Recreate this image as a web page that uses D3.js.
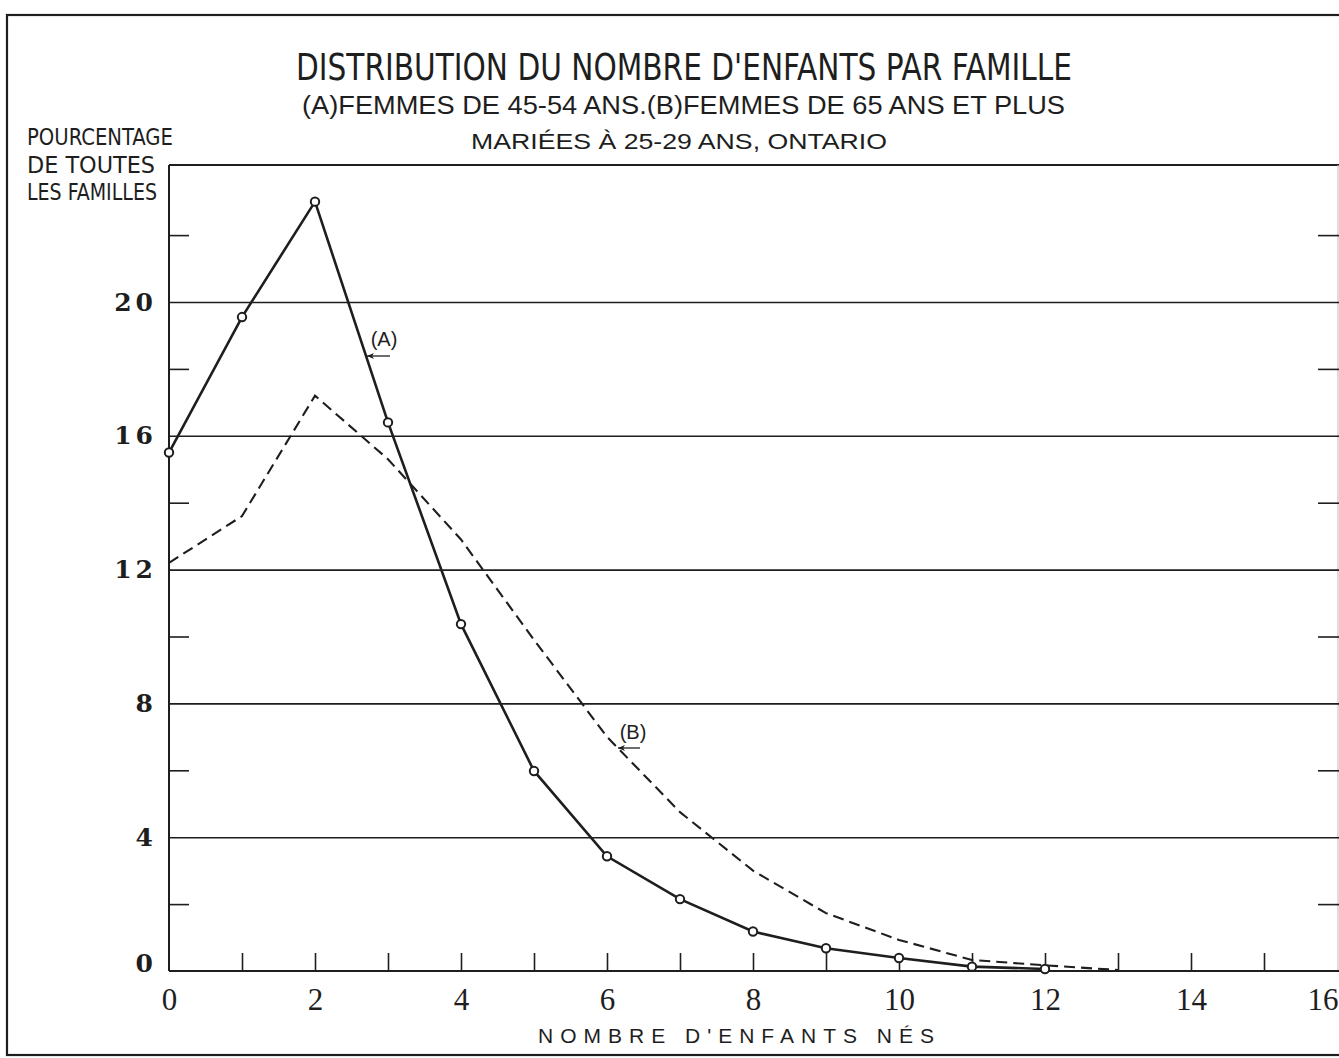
<!DOCTYPE html>
<html>
<head>
<meta charset="utf-8">
<script src="https://cdn.jsdelivr.net/npm/d3@7"></script>
<style>
  html, body { margin: 0; padding: 0; background: #fff; }
  svg { display: block; }
</style>
</head>
<body>
<svg id="chart" width="1339" height="1058"></svg>
<script>
// ---- data ----
const childrenA = [0,1,2,3,4,5,6,7,8,9,10,11,12];
const seriesA   = [15.5,19.55,23.0,16.4,10.37,5.98,3.43,2.15,1.18,0.68,0.39,0.13,0.06];
const childrenB = [0,1,2,3,4,5,6,7,8,9,10,11,12,13];
const seriesB   = [12.2,13.6,17.2,15.3,12.9,9.9,7.0,4.75,3.0,1.73,0.93,0.33,0.17,0.03];
const xTickLabels = [0,2,4,6,8,10,12,14,16];
const xMinorTicks = [1,2,3,4,5,6,7,8,9,10,11,12,13,14,15];
const yTickLabels = [0,4,8,12,16,20];
const yGridLines  = [4,8,12,16,20];
const yMinorTicks = [2,6,10,14,18,22];
const titleText = "DISTRIBUTION DU NOMBRE D'ENFANTS PAR FAMILLE";
const subtitle1 = "(A)FEMMES DE 45-54 ANS.(B)FEMMES DE 65 ANS ET PLUS";
const subtitle2 = "MARIÉES À 25-29 ANS, ONTARIO";
const yTitle = ["POURCENTAGE", "DE TOUTES", "LES FAMILLES"];
const xTitle = "NOMBRE D'ENFANTS NÉS";

const ink = "#1e1e1e";
const svg = d3.select("#chart");

const left = 169, right = 1337, bottom = 971, topFrame = 165;
const x = d3.scaleLinear().domain([0, 16]).range([left, right]);
const y = d3.scaleLinear().domain([0, 20]).range([bottom, 302]);

// outer border
svg.append("rect").attr("x", 7).attr("y", 15).attr("width", 1360).attr("height", 1040)
  .attr("fill", "none").attr("stroke", ink).attr("stroke-width", 2.2);

// plot frame: top line, left axis, right edge
svg.append("line").attr("x1", left).attr("x2", 1339).attr("y1", topFrame).attr("y2", topFrame)
  .attr("stroke", ink).attr("stroke-width", 2);
svg.append("line").attr("x1", left).attr("x2", left).attr("y1", topFrame).attr("y2", bottom)
  .attr("stroke", ink).attr("stroke-width", 2);
svg.append("line").attr("x1", right + 1).attr("x2", right + 1).attr("y1", topFrame).attr("y2", bottom)
  .attr("stroke", "#bbb").attr("stroke-width", 1);

function styleAxis(g) {
  g.select(".domain").remove();
  g.selectAll(".tick line").attr("stroke", ink).attr("stroke-width", 1.6);
}

// horizontal grid lines
svg.append("g").attr("transform", `translate(${left},0)`)
  .call(d3.axisLeft(y).tickValues(yGridLines).tickSize(-(1339 - left)).tickFormat(""))
  .call(styleAxis);

// x axis baseline
svg.append("line").attr("x1", left).attr("x2", 1339).attr("y1", bottom).attr("y2", bottom)
  .attr("stroke", ink).attr("stroke-width", 2);

// minor ticks left and right
svg.append("g").attr("transform", `translate(${left},0)`)
  .call(d3.axisLeft(y).tickValues(yMinorTicks).tickSize(-20).tickFormat(""))
  .call(styleAxis);
svg.append("g").attr("transform", `translate(1339,0)`)
  .call(d3.axisRight(y).tickValues(yMinorTicks).tickSize(-21).tickFormat(""))
  .call(styleAxis);

// x ticks upward
svg.append("g").attr("transform", `translate(0,${bottom})`)
  .call(d3.axisBottom(x).tickValues(xMinorTicks).tickSize(-18).tickFormat(""))
  .call(styleAxis);

// x tick labels
const gx = svg.append("g").attr("transform", `translate(0,${bottom})`)
  .call(d3.axisBottom(x).tickValues(xTickLabels).tickSize(0).tickPadding(17).tickFormat(d3.format("d")));
gx.select(".domain").remove();
gx.selectAll("text").attr("font-family", "'Liberation Serif', 'DejaVu Serif', serif")
  .attr("font-size", 31).attr("fill", ink);
gx.selectAll(".tick").filter(d => d === 16).select("text")
  .attr("text-anchor", "end").attr("x", 1);

// y tick labels
const gy = svg.append("g").attr("transform", `translate(${left},0)`)
  .call(d3.axisLeft(y).tickValues(yTickLabels).tickSize(0).tickPadding(12).tickFormat(d3.format("d")));
gy.select(".domain").remove();
gy.selectAll("text").attr("font-family", "'DejaVu Serif', 'Liberation Serif', serif")
  .attr("font-weight", "bold").attr("font-size", 25).attr("letter-spacing", 4).attr("fill", ink);
gy.selectAll(".tick").filter(d => d === 0).select("text").attr("dy", "0.0em");

// series B dashed
const lineB = d3.line().x((d, i) => x(childrenB[i])).y(d => y(d));
svg.append("path").datum(seriesB).attr("d", lineB)
  .attr("fill", "none").attr("stroke", ink).attr("stroke-width", 2.1)
  .attr("stroke-dasharray", "11,6");

// series A solid with circles
const lineA = d3.line().x((d, i) => x(childrenA[i])).y(d => y(d));
svg.append("path").datum(seriesA).attr("d", lineA)
  .attr("fill", "none").attr("stroke", ink).attr("stroke-width", 2.6);
svg.append("g").selectAll("circle").data(seriesA).join("circle")
  .attr("cx", (d, i) => x(childrenA[i])).attr("cy", d => y(d)).attr("r", 4.2)
  .attr("fill", "#fff").attr("stroke", ink).attr("stroke-width", 2);

// series annotations
const sansFam = "'Liberation Sans', 'DejaVu Sans', sans-serif";
function seriesLabel(txt, lx, ly, ax1, ax2, ay) {
  svg.append("text").attr("x", lx).attr("y", ly).attr("text-anchor", "middle")
    .attr("font-family", sansFam).attr("font-size", 20).attr("fill", ink).text(txt);
  svg.append("line").attr("x1", ax1).attr("x2", ax2).attr("y1", ay).attr("y2", ay)
    .attr("stroke", ink).attr("stroke-width", 1.3);
  svg.append("path").attr("d", `M${ax2},${ay} l7,-3 l-2,3 l2,3 z`).attr("fill", ink);
}
seriesLabel("(A)", 384, 346, 390, 367, 356);
seriesLabel("(B)", 633, 739, 640, 618, 748);

// titles
const narrow = "'Liberation Sans Narrow', 'DejaVu Sans Condensed', 'Roboto Condensed', 'Liberation Sans', sans-serif";
svg.append("text").attr("x", 296).attr("y", 80)
  .attr("font-family", narrow).attr("font-size", 38).attr("fill", ink)
  .attr("textLength", 776).attr("lengthAdjust", "spacingAndGlyphs").text(titleText);
svg.append("text").attr("x", 302).attr("y", 114)
  .attr("font-family", sansFam).attr("font-size", 25).attr("fill", ink)
  .attr("textLength", 763).attr("lengthAdjust", "spacingAndGlyphs").text(subtitle1);
svg.append("text").attr("x", 471).attr("y", 149)
  .attr("font-family", sansFam).attr("font-size", 22).attr("fill", ink)
  .attr("textLength", 416).attr("lengthAdjust", "spacingAndGlyphs").text(subtitle2);

// y axis title
const yT = [[27, 145, 146], [27, 173, 128], [27, 200, 130]];
yTitle.forEach((t, i) => {
  svg.append("text").attr("x", yT[i][0]).attr("y", yT[i][1])
    .attr("font-family", narrow).attr("font-size", 23).attr("fill", ink)
    .attr("textLength", yT[i][2]).attr("lengthAdjust", "spacingAndGlyphs").text(t);
});

// x axis title
svg.append("text").attr("x", 538).attr("y", 1043)
  .attr("font-family", sansFam).attr("font-size", 21).attr("fill", ink)
  .attr("textLength", 396).attr("lengthAdjust", "spacing").text(xTitle);
</script>
</body>
</html>
